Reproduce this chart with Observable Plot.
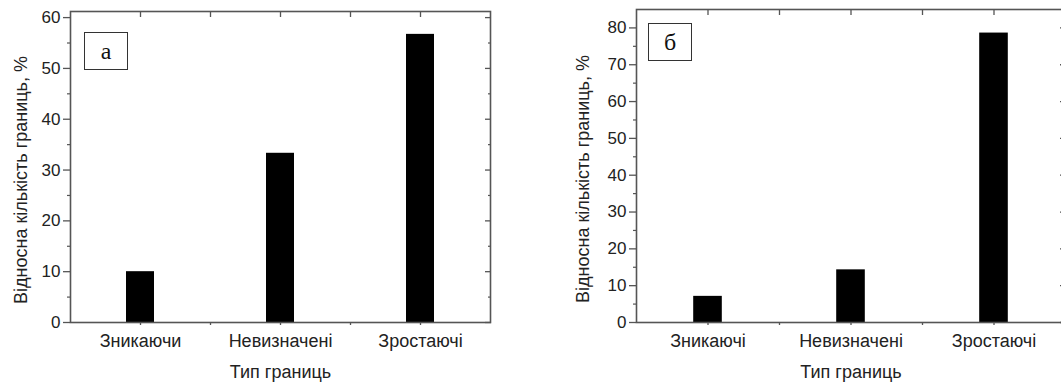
<!DOCTYPE html>
<html><head><meta charset="utf-8">
<script src="https://cdn.jsdelivr.net/npm/d3@7"></script>
<script src="https://cdn.jsdelivr.net/npm/@observablehq/plot@0.6"></script>
<style>
html,body{margin:0;padding:0;background:#fff;overflow:hidden;width:1061px;height:385px}
#wrap{position:relative;width:1061px;height:385px;overflow:hidden;background:#fff}
.panel{position:absolute;top:0}
.tag{position:absolute;box-sizing:border-box;width:44px;height:38px;border:1.3px solid #333;background:#fff;font-family:"Liberation Serif","DejaVu Serif",serif;font-size:24px;display:flex;align-items:center;justify-content:center;color:#111;line-height:1}
</style></head><body><div id="wrap"></div>
<script>
// ---- data ----
const categoriesA = ["Зникаючи", "Невизначені", "Зростаючі"];
const valuesA = [10.0, 33.3, 56.7];
const categoriesB = ["Зникаючі", "Невизначені", "Зростаючі"];
const valuesB = [7.1, 14.3, 78.6];

const yTicksMajorA = [0, 10, 20, 30, 40, 50, 60];
const yTicksMinorA = [5, 15, 25, 35, 45, 55];
const yTicksMajorB = [0, 10, 20, 30, 40, 50, 60, 70, 80];
const yTicksMinorB = [5, 15, 25, 35, 45, 55, 65, 75];
const xTicks = [0, 0.5, 1, 1.5, 2];

const xLabel = "Тип границь";
const yLabel = "Відносна кількість границь, %";
const tagA = "а";
const tagB = "б";

const FONT = "'Liberation Sans', Arial, sans-serif";
const AX = "#555";
const TXT = "#222";

function panel({cats, vals, yMax, major, minor, width, marginLeft, marginRight, marginTop, marginBottom, ydx, ydy}) {
  const data = cats.map((c, i) => ({i, c, v: vals[i]}));
  return Plot.plot({
    width, height: 385, marginLeft, marginRight, marginTop, marginBottom,
    style: {fontFamily: FONT, color: TXT, background: "transparent", overflow: "visible"},
    x: {type: "linear", domain: [-0.5, cats.length - 0.5], axis: null},
    y: {domain: [0, yMax], axis: null},
    marks: [
      Plot.rectY(data, {x1: d => d.i - 0.1, x2: d => d.i + 0.1, y: "v", fill: "black"}),
      Plot.frame({stroke: AX, strokeWidth: 1.6}),
      Plot.axisY({anchor: "left", ticks: major, tickSize: 7, tickPadding: 3, fontSize: 17, stroke: AX, strokeWidth: 1.3, label: null, tickFormat: d => String(d)}),
      Plot.axisY({anchor: "left", ticks: minor, tickSize: 3, stroke: AX, strokeWidth: 1.2, label: null, tickFormat: () => ""}),
      Plot.axisY({anchor: "right", ticks: major, tickSize: 6, dx: -6, stroke: AX, strokeWidth: 1.3, label: null, tickFormat: () => ""}),
      Plot.axisY({anchor: "right", ticks: minor, tickSize: 3, dx: -3, stroke: AX, strokeWidth: 1.2, label: null, tickFormat: () => ""}),
      Plot.axisX({anchor: "top", ticks: xTicks, tickSize: 5, dy: 5, stroke: AX, strokeWidth: 1.3, label: null, tickFormat: () => ""}),
      Plot.axisX({anchor: "bottom", ticks: xTicks, tickSize: 3, tickPadding: 9, stroke: AX, strokeWidth: 1.3, fontSize: 18, label: null,
        tickFormat: d => Number.isInteger(d) ? cats[d] : ""}),
      Plot.text([xLabel], {frameAnchor: "bottom", dy: 50, fontSize: 18, lineAnchor: "middle", textAnchor: "middle", text: d => d, fill: TXT}),
      Plot.text([yLabel], {frameAnchor: "left", rotate: -90, dx: ydx, dy: ydy, fontSize: 18, lineAnchor: "middle", textAnchor: "middle", text: d => d, fill: TXT})
    ]
  });
}

const wrap = document.getElementById("wrap");

const pA = panel({cats: categoriesA, vals: valuesA, yMax: 61.2, major: yTicksMajorA, minor: yTicksMinorA,
  width: 530, marginLeft: 70, marginRight: 40, marginTop: 11, marginBottom: 63, ydx: -49, ydy: 13});
pA.classList.add("panel"); pA.style.left = "0px";
wrap.appendChild(pA);

const pB = panel({cats: categoriesB, vals: valuesB, yMax: 85, major: yTicksMajorB, minor: yTicksMinorB,
  width: 540, marginLeft: 96, marginRight: 15, marginTop: 9, marginBottom: 63, ydx: -53, ydy: 13});
pB.classList.add("panel"); pB.style.left = "540px";
wrap.appendChild(pB);

function addTag(txt, left, top) {
  const d = document.createElement("div");
  d.className = "tag"; d.textContent = txt;
  d.style.left = left + "px"; d.style.top = top + "px";
  wrap.appendChild(d);
}
addTag(tagA, 84, 32);
addTag(tagB, 648, 23);
</script>
</body></html>
